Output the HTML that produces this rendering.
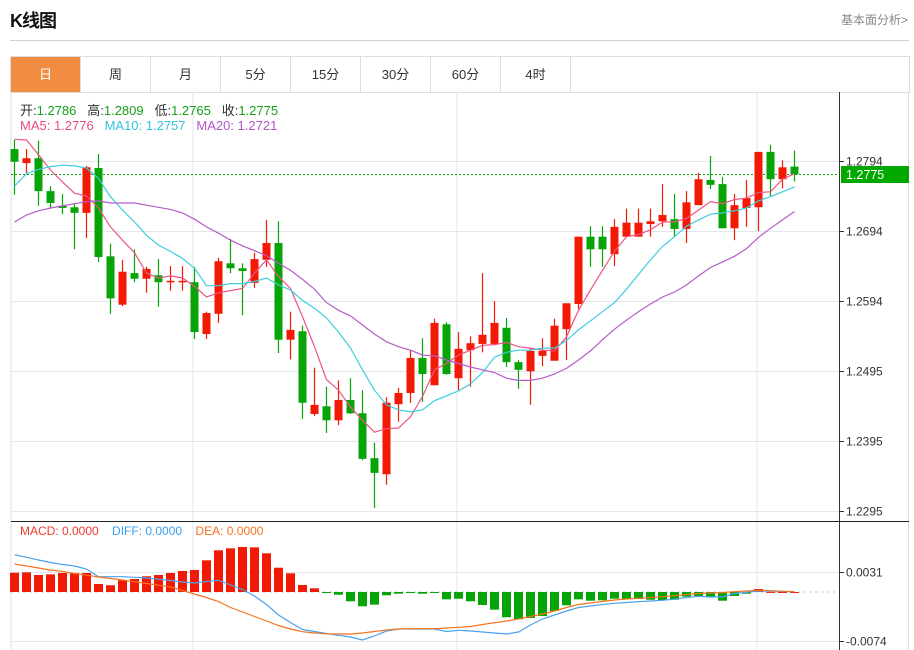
<!DOCTYPE html>
<html><head><meta charset="utf-8"><style>
body{margin:0;background:#fff;font-family:"Liberation Sans","Noto Sans CJK SC",sans-serif;}
#wrap{position:relative;width:914px;height:650px;overflow:hidden;background:#fff}
.title{position:absolute;left:10px;top:7px;font-size:18px;font-weight:bold;color:#111;letter-spacing:-1px}
.more{position:absolute;right:6px;top:11px;font-size:12px;color:#888}
.hr{position:absolute;left:10px;top:40px;width:899px;height:1px;background:#d0d0d0}
.tabs{position:absolute;left:10px;top:56px;width:898px;height:35px;border:1px solid #ddd;display:flex}
.tab{width:69px;height:35px;line-height:35px;text-align:center;font-size:13px;color:#333;border-right:1px solid #ddd}
.tab.on{background:#f28c40;color:#fff}
.info{position:absolute;left:20px;font-size:13px}
svg{position:absolute;left:0;top:0}
</style></head><body>
<div id="wrap">
<div class="title">K线图</div>
<div class="more">基本面分析&gt;</div>
<div class="hr"></div>
<div class="tabs">
<div class="tab on">日</div>
<div class="tab">周</div>
<div class="tab">月</div>
<div class="tab">5分</div>
<div class="tab">15分</div>
<div class="tab">30分</div>
<div class="tab">60分</div>
<div class="tab">4时</div>
</div>
<svg id="chart" width="914" height="650"></svg>
<div class="info" style="top:100px"><span style="color:#333">开:</span><span style="color:#16a016">1.2786</span>&nbsp;&nbsp; <span style="color:#333">高:</span><span style="color:#16a016">1.2809</span>&nbsp;&nbsp; <span style="color:#333">低:</span><span style="color:#16a016">1.2765</span>&nbsp;&nbsp; <span style="color:#333">收:</span><span style="color:#16a016">1.2775</span></div>
<div class="info" style="top:118px"><span style="color:#ea4c7e">MA5: 1.2776</span>&nbsp;&nbsp; <span style="color:#33c3dd">MA10: 1.2757</span>&nbsp;&nbsp; <span style="color:#b454c6">MA20: 1.2721</span></div>
<div class="info" style="top:524px;font-size:12px"><span style="color:#f03a2a">MACD: 0.0000</span>&nbsp;&nbsp;&nbsp; <span style="color:#3aa0f0">DIFF: 0.0000</span>&nbsp;&nbsp;&nbsp; <span style="color:#f5731e">DEA: 0.0000</span></div>
</div>
<script>
const opens=[1.2811,1.2791,1.2798,1.2751,1.2730,1.2728,1.2720,1.2784,1.2658,1.2589,1.2634,1.2626,1.2631,1.2621,1.2622,1.2621,1.2547,1.2576,1.2648,1.2641,1.2620,1.2653,1.2677,1.2539,1.2551,1.2433,1.2444,1.2424,1.2453,1.2434,1.2370,1.2347,1.2447,1.2463,1.2513,1.2474,1.2561,1.2484,1.2524,1.2533,1.2533,1.2556,1.2507,1.2494,1.2516,1.2509,1.2554,1.2590,1.2686,1.2686,1.2661,1.2686,1.2686,1.2704,1.2708,1.2711,1.2697,1.2731,1.2767,1.2761,1.2698,1.2727,1.2728,1.2807,1.2768,1.2786];
const highs=[1.2824,1.2811,1.2823,1.2758,1.2747,1.2733,1.2787,1.2804,1.2676,1.2653,1.2668,1.2643,1.2654,1.2644,1.2644,1.2643,1.2579,1.2656,1.2683,1.2648,1.2663,1.2710,1.2708,1.2579,1.2559,1.2499,1.2472,1.2481,1.2484,1.2467,1.2392,1.2457,1.2470,1.2524,1.2541,1.2569,1.2564,1.2550,1.2544,1.2634,1.2594,1.2570,1.2510,1.2527,1.2541,1.2569,1.2591,1.2686,1.2701,1.2701,1.2711,1.2726,1.2726,1.2726,1.2761,1.2747,1.2751,1.2777,1.2801,1.2771,1.2747,1.2767,1.2807,1.2817,1.2795,1.2809];
const lows=[1.2746,1.2777,1.2730,1.2726,1.2718,1.2668,1.2684,1.2650,1.2576,1.2587,1.2621,1.2606,1.2586,1.2609,1.2609,1.2540,1.2540,1.2563,1.2634,1.2574,1.2613,1.2643,1.2520,1.2511,1.2426,1.2430,1.2406,1.2417,1.2433,1.2367,1.2299,1.2332,1.2422,1.2449,1.2450,1.2474,1.2489,1.2467,1.2472,1.2521,1.2531,1.2500,1.2469,1.2446,1.2501,1.2509,1.2510,1.2583,1.2643,1.2643,1.2644,1.2686,1.2686,1.2686,1.2700,1.2686,1.2677,1.2731,1.2754,1.2698,1.2681,1.2700,1.2694,1.2744,1.2755,1.2765];
const closes=[1.2793,1.2798,1.2751,1.2734,1.2727,1.2720,1.2785,1.2657,1.2598,1.2636,1.2626,1.2640,1.2621,1.2623,1.2623,1.2550,1.2577,1.2651,1.2641,1.2637,1.2654,1.2677,1.2539,1.2553,1.2449,1.2446,1.2424,1.2453,1.2434,1.2369,1.2349,1.2449,1.2463,1.2513,1.2490,1.2563,1.2490,1.2526,1.2534,1.2546,1.2563,1.2507,1.2496,1.2523,1.2523,1.2559,1.2591,1.2686,1.2668,1.2668,1.2700,1.2706,1.2706,1.2708,1.2717,1.2697,1.2735,1.2768,1.2760,1.2698,1.2731,1.2741,1.2807,1.2768,1.2785,1.2775];
const ma5=[1.2825,1.2824,1.2803,1.2781,1.2764,1.2748,1.2744,1.2727,1.2700,1.2681,1.2663,1.2634,1.2627,1.2630,1.2627,1.2615,1.2600,1.2606,1.2609,1.2612,1.2634,1.2653,1.2629,1.2612,1.2572,1.2529,1.2482,1.2467,1.2443,1.2424,1.2407,1.2412,1.2413,1.2429,1.2458,1.2496,1.2505,1.2517,1.2524,1.2531,1.2532,1.2535,1.2529,1.2527,1.2524,1.2523,1.2543,1.2581,1.2610,1.2638,1.2665,1.2686,1.2689,1.2696,1.2707,1.2707,1.2712,1.2724,1.2736,1.2733,1.2739,1.2741,1.2749,1.2750,1.2768,1.2776];
const ma10=[1.2758,1.2776,1.2782,1.2786,1.2788,1.2787,1.2784,1.2769,1.2743,1.2724,1.2707,1.2688,1.2674,1.2665,1.2655,1.2641,1.2616,1.2616,1.2619,1.2619,1.2622,1.2627,1.2617,1.2610,1.2595,1.2584,1.2570,1.2550,1.2527,1.2496,1.2467,1.2446,1.2439,1.2436,1.2439,1.2452,1.2459,1.2466,1.2476,1.2492,1.2514,1.2521,1.2524,1.2524,1.2527,1.2527,1.2538,1.2553,1.2566,1.2579,1.2592,1.2611,1.2632,1.2653,1.2672,1.2686,1.2701,1.2710,1.2718,1.2720,1.2723,1.2727,1.2737,1.2743,1.2750,1.2757];
const ma20=[1.2707,1.2717,1.2723,1.2727,1.2730,1.2733,1.2736,1.2737,1.2734,1.2734,1.2734,1.2731,1.2728,1.2725,1.2720,1.2711,1.2700,1.2691,1.2681,1.2673,1.2666,1.2659,1.2648,1.2638,1.2625,1.2611,1.2592,1.2581,1.2573,1.2560,1.2547,1.2536,1.2529,1.2524,1.2517,1.2516,1.2510,1.2505,1.2500,1.2496,1.2492,1.2484,1.2481,1.2481,1.2484,1.2490,1.2498,1.2510,1.2523,1.2539,1.2554,1.2567,1.2579,1.2590,1.2600,1.2607,1.2617,1.2630,1.2642,1.2650,1.2658,1.2669,1.2685,1.2698,1.2710,1.2722];
const macdHist=[0.00292,0.00298,0.00258,0.00268,0.00288,0.00288,0.00288,0.00121,0.00102,0.00177,0.00197,0.00238,0.00258,0.00288,0.00318,0.00333,0.00480,0.00632,0.00662,0.00682,0.00677,0.00586,0.00368,0.00283,0.00106,0.00056,-0.00005,-0.00041,-0.00141,-0.00217,-0.00192,-0.00050,-0.00026,-0.00003,-0.00026,-0.00003,-0.00111,-0.00102,-0.00141,-0.00197,-0.00268,-0.00383,-0.00414,-0.00394,-0.00364,-0.00288,-0.00202,-0.00111,-0.00132,-0.00126,-0.00102,-0.00106,-0.00106,-0.00117,-0.00121,-0.00117,-0.00071,-0.00061,-0.00080,-0.00132,-0.00061,-0.00026,0.00045,0.00002,0,0];
const diff=[0.00565,0.00526,0.00485,0.00447,0.00417,0.00394,0.00348,0.00232,0.00232,0.00232,0.00223,0.00212,0.00194,0.00174,0.00152,0.00136,0.00159,0.00177,0.00106,0.00038,-0.00061,-0.00189,-0.00348,-0.00462,-0.00568,-0.00598,-0.00629,-0.00656,-0.00682,-0.00727,-0.00667,-0.00591,-0.00561,-0.00561,-0.00561,-0.00561,-0.00598,-0.00580,-0.00591,-0.00606,-0.00621,-0.00636,-0.00606,-0.00500,-0.00409,-0.00348,-0.00288,-0.00235,-0.00212,-0.00189,-0.00171,-0.00159,-0.00147,-0.00136,-0.00126,-0.00109,-0.00083,-0.00065,-0.00076,-0.00076,-0.00023,-0.00005,0.00015,0.00015,0.00008,0.00005];
const dea=[0.00424,0.00394,0.00364,0.00333,0.00311,0.00280,0.00255,0.00227,0.00205,0.00182,0.00156,0.00129,0.00103,0.00076,0.00023,-0.00030,-0.00083,-0.00144,-0.00235,-0.00303,-0.00371,-0.00439,-0.00508,-0.00561,-0.00602,-0.00621,-0.00633,-0.00636,-0.00636,-0.00621,-0.00598,-0.00576,-0.00561,-0.00556,-0.00556,-0.00556,-0.00545,-0.00535,-0.00523,-0.00492,-0.00465,-0.00439,-0.00409,-0.00371,-0.00333,-0.00288,-0.00235,-0.00189,-0.00167,-0.00144,-0.00121,-0.00106,-0.00095,-0.00083,-0.00071,-0.00056,-0.00038,-0.00023,-0.00015,-0.00008,0.00005,0.00015,0.00026,0.00020,0.00012,0.00005];
const priceTicks=[1.2794,1.2694,1.2594,1.2495,1.2395,1.2295];
const macdTicks=[0.0031,-0.0074];
const lastPrice=1.2775;

const NS='http://www.w3.org/2000/svg';
const svg=document.getElementById('chart');
function X(i){return 14+12*i;}
function Y(p){return 161+(1.2794-p)*7008;}
function MY(v){return 592-v*6600;}
function mk(tag,attrs,parent){const e=document.createElementNS(NS,tag);for(const k in attrs)e.setAttribute(k,attrs[k]);(parent||svg).appendChild(e);return e;}
const RED='#f21a05',GREEN='#06a406';

let g=mk('g',{});


mk('line',{x1:11,y1:92,x2:11,y2:650,stroke:'#dde3ea'},g);
[193,457,757].forEach(x=>{mk('line',{x1:x,y1:92,x2:x,y2:650,stroke:'#e1e7ee'},g);});
priceTicks.forEach(p=>{
  const y=Math.round(Y(p))+0.5;
  mk('line',{x1:11,y1:y,x2:839,y2:y,stroke:'#e1e7ee'},g);
  mk('line',{x1:839,y1:y,x2:844,y2:y,stroke:'#333'},g);
  const t=mk('text',{x:846,y:y+4,'font-size':12,fill:'#333','font-family':'Liberation Sans, sans-serif'},g);
  t.textContent=p.toFixed(4);
  
  
});
macdTicks.forEach(v=>{
  const y=Math.round(MY(v))+0.5;
  mk('line',{x1:11,y1:y,x2:839,y2:y,stroke:'#e1e7ee'},g);
  mk('line',{x1:839,y1:y,x2:844,y2:y,stroke:'#333'},g);
  const t=mk('text',{x:846,y:y+4,'font-size':12,fill:'#333','font-family':'Liberation Sans, sans-serif'},g);
  t.textContent=v.toFixed(4);
  
  
});
mk('line',{x1:839.5,y1:92,x2:839.5,y2:650,stroke:'#333'},g);
mk('line',{x1:908.5,y1:92,x2:908.5,y2:650,stroke:'#ddd'},g);
mk('line',{x1:11,y1:521.5,x2:909,y2:521.5,stroke:'#222'},g);
mk('line',{x1:11,y1:MY(0),x2:839,y2:MY(0),stroke:'#a8d8ea','stroke-dasharray':'3,3'},g);

const ly=Math.round(Y(lastPrice))+0.5;
const pl=mk('line',{x1:11,y1:ly,x2:839,y2:ly,stroke:GREEN,'stroke-dasharray':'2,2'});


const pb=mk('rect',{x:841,y:ly-8.5,width:68,height:17,fill:'#00a800'});


const pt=mk('text',{x:846,y:ly+4.5,'font-size':12.5,fill:'#fff','font-family':'Liberation Sans, sans-serif'});
pt.textContent=lastPrice.toFixed(4);



opens.forEach((o,i)=>{
  const c=closes[i],up=c>=o,col=up?RED:GREEN,x=X(i);
  const cg=mk('g',{});
  
  
  mk('line',{x1:x+0.5,y1:Y(highs[i]),x2:x+0.5,y2:Y(lows[i]),stroke:col,'stroke-width':1.2},cg);
  const top=Y(Math.max(o,c)),bot=Y(Math.min(o,c));
  mk('rect',{x:x-3.5,y:top,width:8,height:Math.max(1.5,bot-top),fill:col},cg);
});

function line(arr,fn,col,name){
  const pts=arr.map((v,i)=>X(i)+0.5+','+fn(v).toFixed(1)).join(' ');
  const p=mk('polyline',{points:pts,fill:'none',stroke:col,'stroke-width':1.2});
  
  
}
line(ma5,Y,'#ec5584','ma5-line');
line(ma10,Y,'#3dcde0','ma10-line');
line(ma20,Y,'#b65ccb','ma20-line');

macdHist.forEach((v,i)=>{
  const y0=MY(0),y1=MY(v);
  const r=mk('rect',{x:X(i)-4,y:Math.min(y0,y1),width:9,height:Math.max(1,Math.abs(y1-y0)),fill:v>=0?RED:GREEN});
  
  
});
line(diff,MY,'#4aa3ee','diff-line');
line(dea,MY,'#f5731e','dea-line');
</script>
</body></html>
